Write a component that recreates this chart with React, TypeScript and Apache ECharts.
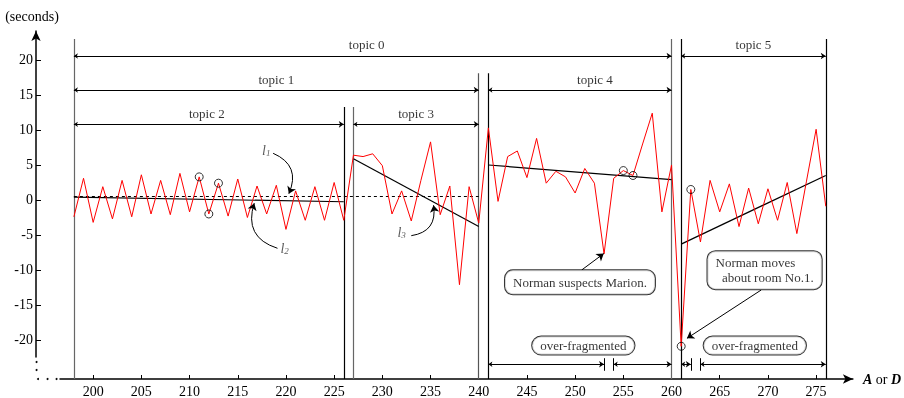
import React, { useEffect, useRef } from 'react';
import * as echarts from 'echarts';

const FONT = '"Liberation Serif", "Times New Roman", serif';

// ---- data ----
const frameTimes = [
  198, 199, 200, 201, 202, 203, 204, 205, 206, 207, 208, 209, 210, 211, 212, 213, 214, 215, 216, 217,
  218, 219, 220, 221, 222, 223, 224, 225, 226, 227, 228, 229, 230, 231, 232, 233, 234, 235, 236, 237,
  238, 239, 240, 241, 242, 243, 244, 245, 246, 247, 248, 249, 250, 251, 252, 253, 254, 255, 256, 257,
  258, 259, 260, 261, 262, 263, 264, 265, 266, 267, 268, 269, 270, 271, 272, 273, 274, 275, 276,
];
const intervalSeconds = [
  -2.4, 3.1, -3.2, 1.9, -2.7, 2.8, -2.4, 3.6, -2.0, 2.8, -2.1, 3.8, -1.7, 3.3, -2.0, 2.4, -2.3, 3.0, -2.5, 2.0,
  -2.0, 2.1, -4.2, 1.3, -2.9, 1.9, -2.9, 2.5, -2.9, 6.4, 6.2, 6.6, 4.9, -2.0, 1.3, -3.0, 2.8, 8.3, -2.1, 2.0,
  -12.1, 1.9, -3.3, 10.3, -0.2, 6.2, 7.0, 3.2, 8.8, 2.4, 4.1, 3.3, 1.0, 4.5, 2.4, -7.7, 3.1, 4.2, 3.5, 8.0,
  12.4, -1.7, 5.0, -20.9, 1.5, -6.0, 2.8, -1.7, 2.3, -3.8, 1.7, -3.4, 1.6, -2.9, 2.5, -4.8, 2.7, 10.1, -0.9,
];
const circledTimes = [211, 212, 213, 255, 256, 261, 262];

const xTicks = [200, 205, 210, 215, 220, 225, 230, 235, 240, 245, 250, 255, 260, 265, 270, 275];
const yTicks = [-20, -15, -10, -5, 0, 5, 10, 15, 20];

// topic segments
const topicNames = ['topic 0', 'topic 1', 'topic 2', 'topic 3', 'topic 4', 'topic 5'];
const topicStart = [198, 198, 198, 227, 241, 261];
const topicEnd = [260, 240, 226, 240, 260, 276];
const topicLevel = [20.57, 15.71, 10.81, 10.81, 15.71, 20.57];

// segment boundaries
const boundaryTimes = [198, 226, 227, 240, 241, 260, 261, 276];
const boundaryTop = [23.0, 13.3, 13.3, 18.1, 18.1, 23.0, 23.0, 23.0];

// fitted lines
const fitStart = [[198, 0.4], [227, 5.9], [241, 5.0], [261, -6.3]];
const fitEnd = [[226, -0.25], [240, -3.8], [260, 2.9], [276, 3.5]];
const meanStart = [198, 0.6];
const meanEnd = [240, 0.6];

// over-fragmented spans
const fragStart = [241, 254, 261, 263];
const fragEnd = [253, 260, 262, 276];
const fragLevel = -23.47;
const fragBars = [253, 254, 262, 263];

// ---- layout / style constants ----
const X_MIN = 196.559;
const X_MAX = 278.814;
const Y_MIN = -22.43;
const Y_MAX = 24.14;
const AXIS_FLOOR = -25.57;
const boundaryColor = ['#666', '#000', '#666', '#555', '#000', '#666', '#000', '#000'];
const topicLabelShift = [-6, 0, -2, 0, 15, 0];

export default function App() {
  const ref = useRef<HTMLDivElement>(null);
  useEffect(() => {
    if (!ref.current) return;
    const chart = echarts.init(ref.current, null, { renderer: 'svg' });

    const redData = frameTimes.map((t, i) => [t, intervalSeconds[i]]);
    const circleData = circledTimes.map((t) => [t, intervalSeconds[frameTimes.indexOf(t)]]);

    const baseText = { fontFamily: FONT, color: '#000' };

    const option: any = {
      animation: false,
      textStyle: { fontFamily: FONT },
      grid: { left: 60, right: 48, top: 31, bottom: 41 },
      xAxis: {
        type: 'value',
        min: X_MIN,
        max: X_MAX,
        offset: 22,
        axisLine: {
          show: true,
          onZero: false,
          symbol: ['none', 'arrow'],
          symbolSize: [7, 10],
          lineStyle: { color: '#000', width: 1.5 },
        },
        axisTick: { show: true, inside: true, length: 4, customValues: xTicks, lineStyle: { color: '#000' } },
        axisLabel: { customValues: xTicks, fontSize: 14, margin: 5, ...baseText },
        splitLine: { show: false },
        name: '{b|A} or {b|D}',
        nameLocation: 'end',
        nameGap: 10,
        nameTextStyle: {
          fontSize: 14,
          ...baseText,
          rich: { b: { fontWeight: 'bold', fontStyle: 'italic', fontSize: 14, fontFamily: FONT, color: '#000' } },
        },
      },
      yAxis: {
        type: 'value',
        min: Y_MIN,
        max: Y_MAX,
        offset: 24,
        axisLine: {
          show: true,
          onZero: false,
          symbol: ['none', 'arrow'],
          symbolSize: [7, 10],
          lineStyle: { color: '#000', width: 1.5 },
        },
        axisTick: { show: true, inside: true, length: 5, customValues: yTicks, lineStyle: { color: '#000' } },
        axisLabel: { customValues: yTicks, fontSize: 14, margin: 3, ...baseText },
        splitLine: { show: false },
        name: '(seconds)',
        nameLocation: 'end',
        nameGap: 8,
        nameTextStyle: { fontSize: 14, ...baseText, padding: [0, 8, 0, 0] },
      },
      graphic: [
        { type: 'circle', shape: { cx: 36.5, cy: 362, r: 1 }, style: { fill: '#000' } },
        { type: 'circle', shape: { cx: 36.5, cy: 370, r: 1 }, style: { fill: '#000' } },
        { type: 'circle', shape: { cx: 38, cy: 379, r: 1 }, style: { fill: '#000' } },
        { type: 'circle', shape: { cx: 47.5, cy: 379, r: 1 }, style: { fill: '#000' } },
        { type: 'circle', shape: { cx: 56.5, cy: 379, r: 1 }, style: { fill: '#000' } },
      ],
      series: [
        {
          type: 'lines',
          coordinateSystem: 'cartesian2d',
          clip: false,
          silent: true,
          symbol: ['none', 'none'],
          lineStyle: { color: '#000', width: 1.2, opacity: 1 },
          data: boundaryTimes.map((t, i) => ({
            coords: [[t, boundaryTop[i]], [t, AXIS_FLOOR]],
            lineStyle: { color: boundaryColor[i] },
          })),
        },
        {
          type: 'lines',
          coordinateSystem: 'cartesian2d',
          clip: false,
          silent: true,
          symbol: ['arrow', 'arrow'],
          symbolSize: [4, 5],
          lineStyle: { color: '#000', width: 1, opacity: 1 },
          data: topicNames.map((n, i) => ({
            coords: [[topicStart[i], topicLevel[i]], [topicEnd[i], topicLevel[i]]],
          })),
        },
        {
          type: 'lines',
          coordinateSystem: 'cartesian2d',
          clip: false,
          silent: true,
          symbol: ['arrow', 'arrow'],
          symbolSize: [4, 5],
          lineStyle: { color: '#000', width: 1, opacity: 1 },
          data: fragStart.map((s, i) => ({ coords: [[s, fragLevel], [fragEnd[i], fragLevel]] })),
        },
        {
          type: 'lines',
          coordinateSystem: 'cartesian2d',
          clip: false,
          silent: true,
          symbol: ['none', 'none'],
          lineStyle: { color: '#000', width: 1, opacity: 1 },
          data: fragBars.map((t) => ({ coords: [[t, -22.6], [t, -24.4]] })),
        },
        {
          type: 'lines',
          coordinateSystem: 'cartesian2d',
          clip: false,
          silent: true,
          symbol: ['none', 'none'],
          lineStyle: { color: '#000', width: 1.2, opacity: 1 },
          data: fitStart.map((s, i) => ({ coords: [s, fitEnd[i]] })),
        },
        {
          type: 'lines',
          coordinateSystem: 'cartesian2d',
          clip: false,
          silent: true,
          symbol: ['none', 'none'],
          lineStyle: { color: '#000', width: 1.2, opacity: 1, type: [3, 3] },
          data: [{ coords: [meanStart, meanEnd] }],
        },
        {
          type: 'line',
          data: redData,
          symbol: 'none',
          lineStyle: { color: '#ff0000', width: 1 },
          z: 3,
        },
        {
          type: 'scatter',
          data: circleData,
          symbol: 'circle',
          symbolSize: 8,
          itemStyle: { color: 'rgba(0,0,0,0)', borderColor: '#000', borderWidth: 1 },
          z: 4,
        },
        {
          type: 'lines',
          coordinateSystem: 'cartesian2d',
          clip: false,
          silent: true,
          symbol: ['none', 'arrow'],
          symbolSize: [5, 7],
          lineStyle: { color: '#000', width: 1, opacity: 1 },
          z: 5,
          data: [
            { coords: [[218.67, 6.67], [220.3, 0.9]], lineStyle: { curveness: 0.5 } },
            { coords: [[219.12, -6.9], [216.71, -0.45]], lineStyle: { curveness: 0.5 } },
            { coords: [[233.0, -5.1], [235.31, -0.75]], lineStyle: { curveness: -0.5 } },
            { coords: [[250.68, -10.0], [252.97, -7.65]] },
            { coords: [[269.3, -12.86], [261.6, -19.76]] },
          ],
        },
        {
          type: 'scatter',
          symbol: 'circle',
          symbolSize: 1,
          itemStyle: { color: 'rgba(0,0,0,0)' },
          silent: true,
          z: 6,
          label: { show: true, position: 'top', distance: 4, formatter: '{b}', fontSize: 13, ...baseText },
          data: topicNames.map((n, i) => ({
            name: n,
            value: [(topicStart[i] + topicEnd[i]) / 2, topicLevel[i]],
            label: { offset: [topicLabelShift[i], 0] },
          })),
        },
        {
          type: 'scatter',
          symbol: 'circle',
          symbolSize: 1,
          itemStyle: { color: 'rgba(0,0,0,0)' },
          silent: true,
          z: 6,
          label: {
            show: true,
            position: 'inside',
            formatter: '{b}',
            fontSize: 13,
            ...baseText,
            backgroundColor: '#fff',
            borderColor: '#000',
            borderWidth: 1,
            borderRadius: 9,
            padding: [2, 8],
            lineHeight: 14,
          },
          data: [
            { name: 'Norman suspects Marion.', value: [250.5, -11.76], label: { padding: [5, 8], borderRadius: 8 } },
            {
              name: 'Norman moves\n\u00a0\u00a0about room No.1.',
              value: [263.73, -10.03],
              label: { align: 'left', lineHeight: 15, padding: [4, 8], borderRadius: 8 },
            },
            { name: 'over-fragmented', value: [250.85, -20.79] },
            { name: 'over-fragmented', value: [268.64, -20.79] },
          ],
        },
        {
          type: 'scatter',
          symbol: 'circle',
          symbolSize: 1,
          itemStyle: { color: 'rgba(0,0,0,0)' },
          silent: true,
          z: 6,
          label: {
            show: true,
            position: 'inside',
            ...baseText,
            fontSize: 14,
            rich: {
              i: { fontStyle: 'italic', fontSize: 14, fontFamily: FONT, color: '#333' },
              s: { fontStyle: 'italic', fontSize: 9, fontFamily: FONT, color: '#333', padding: [5, 0, 0, 0] },
            },
          },
          data: [
            { name: 'l1', value: [217.95, 7.14], label: { formatter: '{i|l}{s|1}' } },
            { name: 'l2', value: [219.86, -6.86], label: { formatter: '{i|l}{s|2}' } },
            { name: 'l3', value: [232.0, -4.71], label: { formatter: '{i|l}{s|3}' } },
          ],
        },
      ],
    };
    chart.setOption(option);
    return () => chart.dispose();
  }, []);
  return <div ref={ref} style={{ position: 'fixed', left: 0, top: 0, width: 904, height: 398 }} />;
}
